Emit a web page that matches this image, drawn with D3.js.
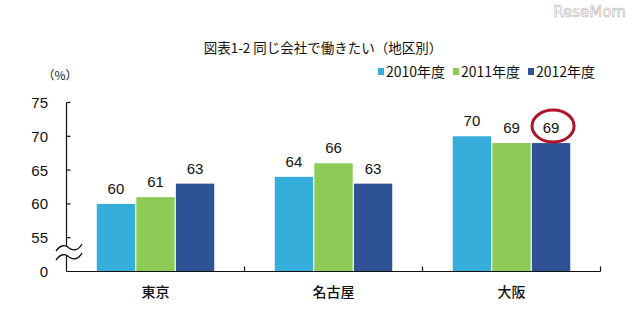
<!DOCTYPE html>
<html><head><meta charset="utf-8">
<script src="https://cdn.jsdelivr.net/npm/d3@7"></script>
<style>
body{margin:0;background:#fff;}
svg{display:block;}
text{font-family:"Liberation Sans",Arial,"Noto Sans CJK JP",sans-serif;}
.jp{font-family:"Noto Sans CJK JP",sans-serif;}
</style></head>
<body>
<script>
const categories = ["東京", "名古屋", "大阪"];
const years = ["2010年度", "2011年度", "2012年度"];
const values2010 = [60, 64, 70];
const values2011 = [61, 66, 69];
const values2012 = [63, 63, 69];
const yTicks = [55, 60, 65, 70, 75];
const yTickLabels = ["55", "60", "65", "70", "75"];
const baseLabel = "0";
const colors = ["#36AEDB", "#8CCB55", "#2F5196"];
const title = "図表1-2 同じ会社で働きたい（地区別）";

(function () {
const series = [values2010, values2011, values2012];
const W = 640, H = 328;
const svg = d3.select("body").append("svg").attr("width", W).attr("height", H);

const left = 66.5, right = 600.5, base = 271.5, topY = 102.5;
const y = d3.scaleLinear().domain([50, 75]).range([base, topY]);
const x0 = d3.scaleBand().domain(categories).range([left, right]).paddingInner(0.34).paddingOuter(0.17);
const x1 = d3.scaleBand().domain(years).range([0, x0.bandwidth()]).paddingInner(0.03);

// logo
svg.append("text").attr("x", 626).attr("y", 17).attr("text-anchor", "end")
  .attr("font-size", 15).attr("fill", "#fff").attr("stroke", "#aaa").attr("stroke-width", 0.5)
  .style("font-family", "'DejaVu Sans',sans-serif").text("ReseMom");

// title
svg.append("text").attr("class", "jp").attr("x", 323).attr("y", 53).attr("text-anchor", "middle")
  .attr("font-size", 13.5).attr("fill", "#111").text(title);

// legend
const legX = [378, 453, 528];
years.forEach((yr, i) => {
  svg.append("rect").attr("x", legX[i]).attr("y", 68).attr("width", 6).attr("height", 7).attr("fill", colors[i]);
  svg.append("text").attr("class", "jp").attr("x", legX[i] + 8).attr("y", 77).attr("font-size", 14)
    .attr("fill", "#111").text(yr);
});

// unit
svg.append("text").attr("class", "jp").attr("x", 60).attr("y", 80).attr("text-anchor", "middle")
  .attr("font-size", 12).attr("fill", "#222").text("（%）");

// bars
const g = svg.append("g");
categories.forEach((c, ci) => {
  years.forEach((yr, si) => {
    const v = series[si][ci];
    const bx = x0(c) + x1(yr);
    g.append("rect").attr("x", bx).attr("y", y(v)).attr("width", x1.bandwidth())
      .attr("height", base - y(v)).attr("fill", colors[si]);
    g.append("text").attr("x", bx + x1.bandwidth() / 2).attr("y", y(v) - 10)
      .attr("text-anchor", "middle").attr("font-size", 15).attr("fill", "#111").text(v);
  });
});

// y axis
const yAxis = svg.append("g");
yAxis.append("line").attr("x1", left).attr("x2", left).attr("y1", y(75)).attr("y2", base).attr("stroke", "#111").attr("stroke-width", 1.2);
yTicks.forEach((t, i) => {
  yAxis.append("line").attr("x1", left).attr("x2", left + 4).attr("y1", y(t)).attr("y2", y(t)).attr("stroke", "#111").attr("stroke-width", 1.2);
  yAxis.append("text").attr("x", 48).attr("y", y(t) + 5.5).attr("text-anchor", "end").attr("font-size", 15).attr("fill", "#111").text(yTickLabels[i]);
});
yAxis.append("text").attr("x", 48).attr("y", base + 5).attr("text-anchor", "end").attr("font-size", 15).attr("fill", "#111").text(baseLabel);

// break marks
const wave = (yy) => `M56,${yy + 3} C61,${yy - 4} 66,${yy - 3} 69,${yy} C73,${yy + 3} 78,${yy + 3} 82,${yy - 4}`;
svg.append("path").attr("d", `${wave(248)} L82,${257 - 4} C78,${260} 73,${260} 69,${257} C66,${254} 61,${253} 56,${260} Z`)
  .attr("fill", "#fff").attr("stroke", "none");
[248, 257].forEach(yy => {
  svg.append("path").attr("d", wave(yy)).attr("fill", "none").attr("stroke", "#111").attr("stroke-width", 1.3);
});

// x axis
const xAxis = svg.append("g");
xAxis.append("line").attr("x1", left).attr("x2", right).attr("y1", base).attr("y2", base).attr("stroke", "#111").attr("stroke-width", 1.2);
categories.forEach((c, i) => {
  const bx = x0(c) + x0.bandwidth() / 2 + x0.step() / 2;
  xAxis.append("line").attr("x1", bx).attr("x2", bx).attr("y1", base).attr("y2", base - 5).attr("stroke", "#111").attr("stroke-width", 1.2);
  xAxis.append("text").attr("class", "jp").attr("x", x0(c) + x0.bandwidth() / 2).attr("y", 297)
    .attr("text-anchor", "middle").attr("font-size", 14).attr("font-weight", 500).attr("fill", "#111").text(c);
});

// highlight circle around Osaka 2012
const hx = x0("大阪") + x1("2012年度") + x1.bandwidth() / 2 + 2;
svg.append("ellipse").attr("cx", hx).attr("cy", y(values2012[2]) - 17).attr("rx", 21).attr("ry", 16)
  .attr("fill", "none").attr("stroke", "#B0142B").attr("stroke-width", 3);
})();
</script>
</body></html>
